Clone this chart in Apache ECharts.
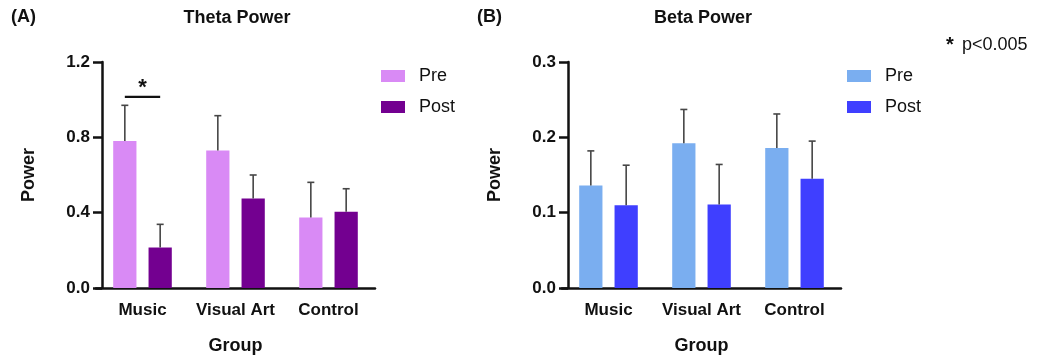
<!DOCTYPE html>
<html>
<head>
<meta charset="utf-8">
<script src="https://cdn.jsdelivr.net/npm/echarts@6/dist/echarts.min.js"></script>
<style>
  html, body { margin: 0; padding: 0; background: #fff; }
  #chart { width: 1037px; height: 357px; }
</style>
</head>
<body>
<div id="chart"></div>
<script>
var groups = ['Music', 'Visual Art', 'Control'];

var thetaPre = [0.78, 0.73, 0.375];
var thetaPreSd = [0.19, 0.185, 0.186];
var thetaPost = [0.215, 0.475, 0.405];
var thetaPostSd = [0.123, 0.125, 0.122];

var betaPre = [0.136, 0.192, 0.186];
var betaPreSd = [0.046, 0.045, 0.045];
var betaPost = [0.110, 0.111, 0.145];
var betaPostSd = [0.053, 0.053, 0.050];

var thetaTicks = [0, 1.2, 0.4];   // min, max, interval
var betaTicks = [0, 0.3, 0.1];

// significance bracket: group index, height of the line
var signif = [[0, 1.015]];

var FONT = "'Liberation Sans', Arial, Helvetica, sans-serif";
var colors = {
    thetaPre: '#d98af5', thetaPost: '#730090',
    betaPre: '#7aaef0', betaPost: '#3f3fff'
};

function errorSeries(name, grid, means, sds, side) {
    return {
        name: name,
        type: 'custom',
        xAxisIndex: grid,
        yAxisIndex: grid,
        z: 5,
        silent: true,
        data: means.map(function (m, i) { return [i, m, sds[i]]; }),
        renderItem: function (params, api) {
            var band = api.size([1, 0])[0];
            var base = api.coord([api.value(0), api.value(1)]);
            var top = api.coord([api.value(0), api.value(1) + api.value(2)]);
            var x = base[0] + band * side;
            var style = { stroke: '#464646', lineWidth: 1.6 };
            return {
                type: 'group',
                children: [
                    { type: 'line', shape: { x1: x, y1: base[1], x2: x, y2: top[1] }, style: style },
                    { type: 'line', shape: { x1: x - 3.5, y1: top[1], x2: x + 3.5, y2: top[1] }, style: style }
                ]
            };
        }
    };
}

function barSeries(name, grid, data, color) {
    return {
        name: name,
        type: 'bar',
        xAxisIndex: grid,
        yAxisIndex: grid,
        barWidth: '25%',
        barGap: '52%',
        itemStyle: { color: color },
        data: data
    };
}

function xAxis(grid) {
    return {
        type: 'category',
        gridIndex: grid,
        data: groups,
        name: 'Group',
        nameLocation: 'middle',
        nameGap: 49,
        nameTextStyle: { fontFamily: FONT, fontSize: 18, fontWeight: 'bold', color: '#111' },
        axisLine: { lineStyle: { color: '#111', width: 2.5 } },
        axisTick: { alignWithLabel: true, length: 8, lineStyle: { color: '#111', width: 2.5 } },
        axisLabel: { interval: 0, fontFamily: FONT, fontSize: 17, fontWeight: 'bold', color: '#111', margin: 14 }
    };
}

function yAxis(grid, ticks) {
    return {
        type: 'value',
        gridIndex: grid,
        min: ticks[0],
        max: ticks[1],
        interval: ticks[2],
        offset: -6,
        name: 'Power',
        nameLocation: 'middle',
        nameGap: 64,
        nameTextStyle: { fontFamily: FONT, fontSize: 18, fontWeight: 'bold', color: '#111' },
        splitLine: { show: false },
        axisLine: { show: true, lineStyle: { color: '#111', width: 2.5 } },
        axisTick: { show: true, length: 9, lineStyle: { color: '#111', width: 2.5 } },
        axisLabel: {
            fontFamily: FONT, fontSize: 17, fontWeight: 'bold', color: '#111', margin: 12,
            formatter: function (v) { return v.toFixed(1); }
        }
    };
}

function legend(left, names) {
    return {
        left: left,
        top: 67,
        padding: 0,
        orient: 'vertical',
        icon: 'rect',
        itemWidth: 24,
        itemHeight: 12,
        itemGap: 13,
        selectedMode: false,
        data: names,
        formatter: function (n) { return n.split(' ')[1]; },
        textStyle: { fontFamily: FONT, fontSize: 18, color: '#111', padding: [0, 0, 0, 9], lineHeight: 18 }
    };
}

var chartDom = document.getElementById('chart');
var myChart = echarts.init(chartDom);
var option;

option = {
    animation: false,
    backgroundColor: '#fff',
    graphic: [
        { type: 'text', left: 11, top: 8, style: { text: '(A)', font: 'bold 18px ' + FONT, fill: '#111' } },
        { type: 'text', left: 477, top: 8, style: { text: '(B)', font: 'bold 18px ' + FONT, fill: '#111' } },
        { type: 'text', x: 237, y: 18, style: { text: 'Theta Power', font: 'bold 18px ' + FONT, fill: '#111', textAlign: 'center', textVerticalAlign: 'middle' } },
        { type: 'text', x: 703, y: 18, style: { text: 'Beta Power', font: 'bold 18px ' + FONT, fill: '#111', textAlign: 'center', textVerticalAlign: 'middle' } },
        { type: 'text', x: 946, y: 45, style: { text: '*', font: 'bold 20px ' + FONT, fill: '#111', textVerticalAlign: 'middle' } },
        { type: 'text', x: 962, y: 45, style: { text: 'p<0.005', font: '18px ' + FONT, fill: '#111', textVerticalAlign: 'middle' } }
    ],
    grid: [
        { left: 96, top: 62, width: 279, height: 226, outerBoundsMode: 'none', containLabel: false },
        { left: 562, top: 62, width: 279, height: 226, outerBoundsMode: 'none', containLabel: false }
    ],
    legend: [
        legend(381, ['Theta Pre', 'Theta Post']),
        legend(847, ['Beta Pre', 'Beta Post'])
    ],
    xAxis: [xAxis(0), xAxis(1)],
    yAxis: [yAxis(0, thetaTicks), yAxis(1, betaTicks)],
    series: [
        barSeries('Theta Pre', 0, thetaPre, colors.thetaPre),
        barSeries('Theta Post', 0, thetaPost, colors.thetaPost),
        barSeries('Beta Pre', 1, betaPre, colors.betaPre),
        barSeries('Beta Post', 1, betaPost, colors.betaPost),
        errorSeries('theta pre err', 0, thetaPre, thetaPreSd, -0.19),
        errorSeries('theta post err', 0, thetaPost, thetaPostSd, 0.19),
        errorSeries('beta pre err', 1, betaPre, betaPreSd, -0.19),
        errorSeries('beta post err', 1, betaPost, betaPostSd, 0.19),
        {
            name: 'significance',
            type: 'custom',
            xAxisIndex: 0,
            yAxisIndex: 0,
            z: 6,
            silent: true,
            data: signif,
            renderItem: function (params, api) {
                var band = api.size([1, 0])[0];
                var p = api.coord([api.value(0), api.value(1)]);
                return {
                    type: 'group',
                    children: [
                        { type: 'line', shape: { x1: p[0] - band * 0.19, y1: p[1], x2: p[0] + band * 0.19, y2: p[1] },
                          style: { stroke: '#111', lineWidth: 2.2 } },
                        { type: 'text', x: p[0], y: p[1] - 9,
                          style: { text: '*', font: 'bold 22px ' + FONT, fill: '#111', textAlign: 'center', textVerticalAlign: 'middle' } }
                    ]
                };
            }
        }
    ]
};

option && myChart.setOption(option);
</script>
</body>
</html>
